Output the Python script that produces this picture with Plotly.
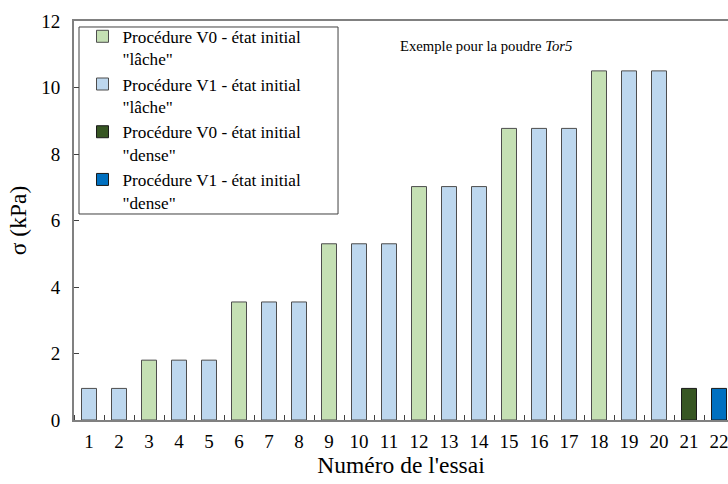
import plotly.graph_objects as go

essai = list(range(1, 23))
sigma = [0.95, 0.95, 1.8, 1.8, 1.8, 3.55, 3.55, 3.55, 5.3, 5.3, 5.3,
         7.02, 7.02, 7.02, 8.77, 8.77, 8.77, 10.5, 10.5, 10.5, 0.95, 0.95]
groupe = ["V1L", "V1L", "V0L", "V1L", "V1L", "V0L", "V1L", "V1L", "V0L", "V1L", "V1L",
          "V0L", "V1L", "V1L", "V0L", "V1L", "V1L", "V0L", "V1L", "V1L", "V0D", "V1D"]

series = [
    ("V0L", "Procédure V0 - état initial<br>\"lâche\"", "#C5E0B4", "#4d4d4d"),
    ("V1L", "Procédure V1 - état initial<br>\"lâche\"", "#BDD7EE", "#4d4d4d"),
    ("V0D", "Procédure V0 - état initial<br>\"dense\"", "#375623", "#1a1a1a"),
    ("V1D", "Procédure V1 - état initial<br>\"dense\"", "#0070C0", "#1a1a1a"),
]

FONT = "Liberation Serif, Times New Roman, serif"
fig = go.Figure()
for key, name, color, edge in series:
    xs = [e for e, g in zip(essai, groupe) if g == key]
    ys = [s for s, g in zip(sigma, groupe) if g == key]
    fig.add_trace(go.Bar(x=xs, y=ys, name=name, width=0.5,
                         marker=dict(color=color, line=dict(color=edge, width=1))))

fig.update_layout(
    width=728, height=484,
    margin=dict(l=74, r=0, t=21, b=64, autoexpand=False),
    paper_bgcolor="white", plot_bgcolor="white",
    barmode="overlay",
    font=dict(family=FONT, size=19, color="black"),
    legend=dict(x=0.013, y=1.006, xanchor="left", yanchor="top",
                borderwidth=0, bgcolor="rgba(0,0,0,0)",
                font=dict(family=FONT, size=17.2), valign="top",
                tracegroupgap=0, itemwidth=30),
    xaxis=dict(range=[0.5, 22.3], tickmode="array", tickvals=essai,
               ticktext=[str(e) for e in essai], ticks="", showgrid=False,
               showline=True, linecolor="#808080", linewidth=2, mirror=True,
               zeroline=False, automargin=False, ticklabelstandoff=3,
               ticklabeloverflow="allow",
               minor=dict(ticks="inside", tick0=0.5, dtick=1, ticklen=5,
                          tickcolor="#404040", showgrid=False),
               title=dict(text="Numéro de l'essai", font=dict(size=23.5), standoff=6)),
    yaxis=dict(range=[0, 12], dtick=2, ticks="inside", ticklen=5, tickcolor="#404040",
               showgrid=False, showline=True, linecolor="#808080", linewidth=2,
               zeroline=False, ticklabelstandoff=8, automargin=False,
               title=dict(text="σ (kPa)", font=dict(size=23.5), standoff=8)),
    shapes=[dict(type="rect", xref="paper", yref="paper",
                 x0=0.00765, x1=0.4037, y0=0.5163, y1=0.985,
                 line=dict(color="#404040", width=1), fillcolor="white", layer="above")],
    annotations=[dict(text="Exemple pour la poudre <i>Tor5</i>", xref="paper", yref="paper",
                      x=0.495, y=0.937, xanchor="left", yanchor="middle", showarrow=False,
                      font=dict(family=FONT, size=14.7))],
)

fig.write_html("out.html", config={"displayModeBar": False},
               post_script="document.body.style.margin='0px';")
